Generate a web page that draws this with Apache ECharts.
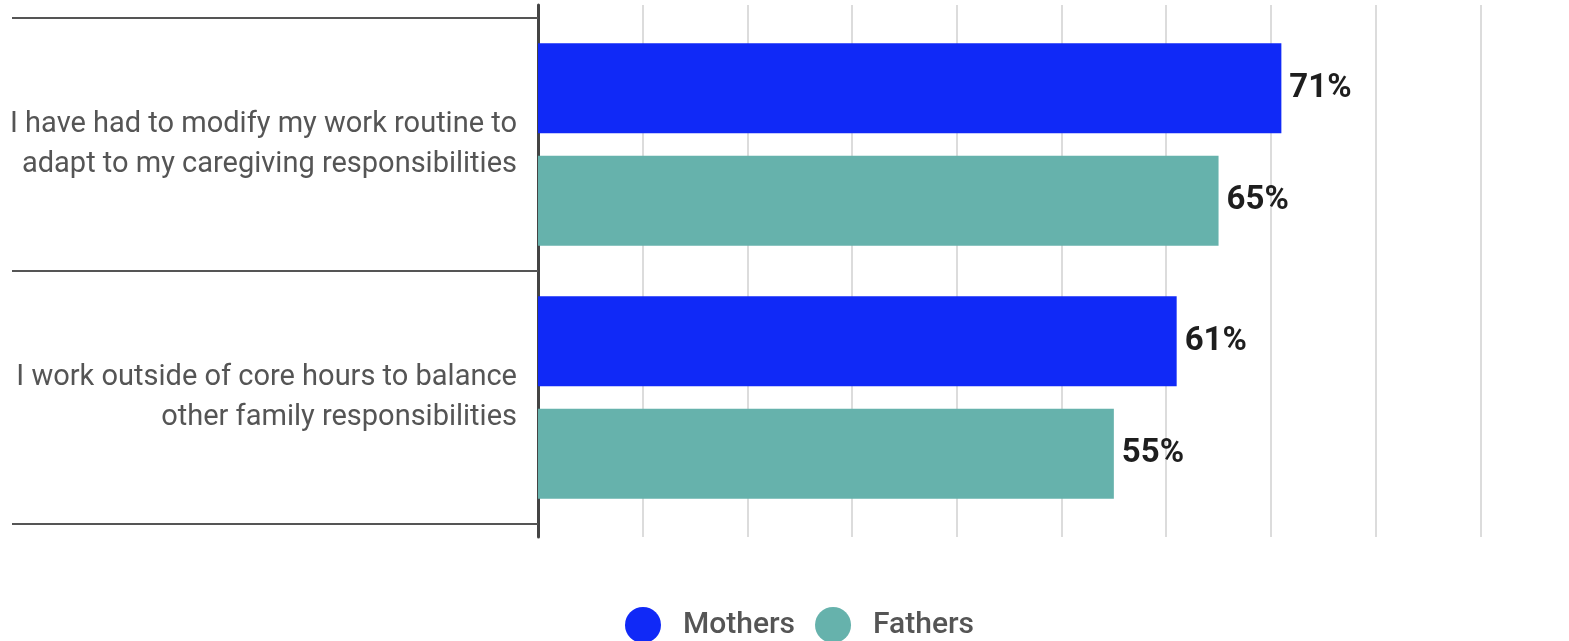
<!DOCTYPE html>
<html>
<head>
<meta charset="utf-8">
<script src="https://cdn.jsdelivr.net/npm/echarts@6/dist/echarts.min.js"></script>
<style>
  html, body { margin: 0; padding: 0; background: #fff; }
  #chart { width: 1569px; height: 641px; }
</style>
</head>
<body>
<div id="chart"></div>
<script>
// Survey statements (top to bottom) and the share agreeing, in percent
const categories = [
  'I have had to modify my work routine to\nadapt to my caregiving responsibilities',
  'I work outside of core hours to balance\nother family responsibilities'
];
const seriesNames = ['Mothers', 'Fathers'];
const mothers = [71, 61];
const fathers = [65, 55];

const colors = { Mothers: '#1029f7', Fathers: '#66b2ac' };
const font = 'Roboto, "Noto Sans", sans-serif';

const chart = echarts.init(document.getElementById('chart'));

const valueLabel = {
  show: true,
  position: 'right',
  distance: 8,
  formatter: '{c}%',
  color: '#1e1e1e',
  fontFamily: font,
  fontSize: 33,
  fontWeight: 'bold'
};

// the value scale runs 0-100 and continues past the right edge of the canvas
const plotLeft = 538;
const plotWidth = 1047;

chart.setOption({
  animation: false,
  backgroundColor: '#ffffff',
  textStyle: { fontFamily: font },
  legend: {
    data: seriesNames,
    left: 620,
    top: 602,
    icon: 'circle',
    itemWidth: 36,
    itemHeight: 36,
    itemGap: 20,
    textStyle: {
      color: '#555555',
      fontSize: 30,
      fontWeight: 500,
      fontFamily: font,
      padding: [0, 0, 0, 17]
    }
  },
  grid: [
    // plotting area for the bars
    { left: plotLeft, width: plotWidth, top: 18, bottom: 117, outerBoundsMode: 'none' },
    // slightly taller backdrop carrying the gridlines and the vertical axis line
    { left: plotLeft, width: plotWidth, top: 5, bottom: 104, outerBoundsMode: 'none' }
  ],
  xAxis: [
    {
      gridIndex: 0, type: 'value', min: 0, max: 100, interval: 10,
      axisLine: { show: false }, axisTick: { show: false },
      axisLabel: { show: false }, splitLine: { show: false }
    },
    {
      gridIndex: 1, type: 'value', min: 0, max: 100, interval: 10,
      axisLine: { show: false }, axisTick: { show: false },
      axisLabel: { show: false },
      splitLine: { show: true, lineStyle: { color: '#dcdcdc', width: 2 } }
    }
  ],
  yAxis: [
    {
      gridIndex: 0, type: 'category', data: categories, inverse: true,
      axisLine: { show: false },
      axisTick: { show: true, length: 526, lineStyle: { color: '#555555', width: 2 } },
      axisLabel: {
        margin: 21,
        color: '#555555',
        fontSize: 29,
        lineHeight: 40,
        fontFamily: font,
        align: 'right'
      }
    },
    {
      gridIndex: 1, type: 'category', data: ['', ''],
      axisLine: { show: true, lineStyle: { color: '#444444', width: 3 } },
      axisTick: { show: false },
      axisLabel: { show: false }
    }
  ],
  series: [
    {
      name: 'Mothers', type: 'bar', xAxisIndex: 0, yAxisIndex: 0,
      data: mothers, barWidth: 90, barGap: '25%',
      itemStyle: { color: colors.Mothers },
      label: valueLabel
    },
    {
      name: 'Fathers', type: 'bar', xAxisIndex: 0, yAxisIndex: 0,
      data: fathers, barWidth: 90, barGap: '25%',
      itemStyle: { color: colors.Fathers },
      label: valueLabel
    }
  ]
});
</script>
</body>
</html>
